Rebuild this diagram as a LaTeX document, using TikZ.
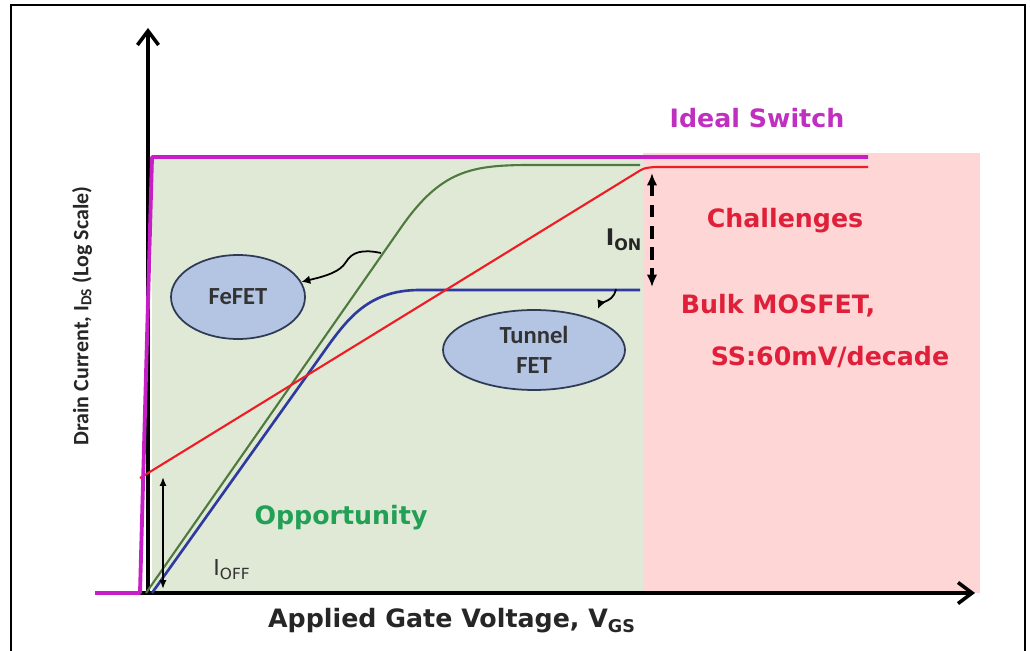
\documentclass[tikz,border=0pt]{standalone}
\usepackage{fontspec}
\setmainfont{DejaVu Sans}
\newfontfamily\carlito{Carlito}
\usetikzlibrary{arrows.meta,shapes.geometric}
\definecolor{greenzone}{HTML}{DFE9D6}
\definecolor{redzone}{HTML}{FDD6D5}
\definecolor{idealcol}{HTML}{C81EC8}
\definecolor{mosfetcol}{HTML}{EE1C24}
\definecolor{fefetcol}{HTML}{4E7A3E}
\definecolor{tfetcol}{HTML}{2E3A9E}
\definecolor{bubblefill}{HTML}{B4C5E4}
\definecolor{bubbleedge}{HTML}{2F3B55}
\definecolor{txtred}{HTML}{E0203A}
\definecolor{txtgreen}{HTML}{22A055}
\definecolor{txtmag}{HTML}{C030C0}
\begin{document}
\begin{tikzpicture}[x=0.02cm, y=-0.02cm,
		axis/.style={line width=2pt, -{Straight Barb[length=8pt,width=12pt]}},
		curve/.style={line width=1.2pt, line join=round},
		fet/.style={ellipse, draw=bubbleedge, line width=1pt, fill=bubblefill, inner sep=0pt,
			font=\carlito\bfseries\fontsize{14}{17}\selectfont, text=black!80, align=center},
		note/.style={font=\bfseries\fontsize{14.4}{17}\selectfont, inner sep=0pt},
		squig/.style={line width=1pt, -{Latex[length=5pt,width=5pt]}}]
		\useasboundingbox (0,0) rectangle (1030,651);
		% frame and shaded zones
		\draw[line width=1pt] (11,651) -- (11,5) -- (1025,5) -- (1025,651);
		\fill[greenzone] (152,157) rectangle (643,593);
		\fill[redzone] (643,153) rectangle (980,593);
		% axes
		\coordinate (o) at (148,593);
		\coordinate (xend) at (975,593);
		\coordinate (yend) at (148,28);
		\draw[axis] (95,593) -- (xend);
		\draw[axis] (o) -- (yend);
		% device curves
		\draw[curve, tfetcol, line width=1.5pt] (152,593) -- (318,360) .. controls (345,322) and (365,290) .. (420,290) -- (640,290);
		\draw[curve, fefetcol] (146,593) -- (400,229) .. controls (440,171) and (470,165) .. (530,165) -- (640,165);
		\draw[curve, mosfetcol] (140,478) -- (636,173) .. controls (644,168) .. (655,167) -- (868,167);
		\draw[curve, idealcol, line width=2.2pt] (95,593) -- (140,593) -- (152,157) -- (868,157);
		% bubbles
		\node[fet, minimum width=2.68cm, minimum height=1.68cm] (fefet) at (238,297) {FeFET};
		\node[fet, minimum width=3.64cm, minimum height=1.6cm] (tfet) at (534,350) {Tunnel\\FET};
		\coordinate (fefet tap) at (381,253);
		\coordinate (tfet tap) at (616,289);
		\coordinate (tfet tip) at (598,309);
		\draw[squig] (fefet tap) .. controls (362,249) and (352,252) .. (346,262) .. controls (340,272) and (326,276) .. (fefet);
		\draw[squig] (tfet tap) .. controls (614,298) and (609,300) .. (604,302) .. controls (600,304) .. (tfet tip);
		% on / off currents
		\coordinate (on top) at (652,173);
		\coordinate (on bot) at (652,287);
		\draw[line width=2pt, dash pattern=on 7pt off 5pt, {Latex[length=7pt,width=6pt]}-{Latex[length=7pt,width=6pt]}] (on top) -- (on bot);
		\node[font=\bfseries\fontsize{13}{15}\selectfont, text=black!85, inner sep=0pt] (ion) at (624,240) {I\textsubscript{ON}};
		\coordinate (off top) at (163,477);
		\coordinate (off bot) at (163,589);
		\draw[line width=1pt, {Latex[length=5pt,width=4pt]}-{Latex[length=5pt,width=4pt]}] (off top) -- (off bot);
		\node[font=\fontsize{12.5}{15}\selectfont, text=black!80, inner sep=0pt] (ioff) at (232,570) {I\textsubscript{OFF}};
		% texts
		\node[note, text=txtmag] (ideal) at (757,118) {Ideal Switch};
		\node[note, text=txtred] (chal) at (785,221) {Challenges};
		\node[note, text=txtred] (bulk) at (778,306) {Bulk MOSFET,};
		\node[note, text=txtred] (ss) at (830,357) {SS:60mV/decade};
		\node[note, text=txtgreen] (opp) at (341,518) {Opportunity};
		\node[note, text=black!85] (xlab) at (452,621) {Applied Gate Voltage, V\textsubscript{GS}};
		\node[font=\carlito\bfseries\fontsize{12.5}{15}\selectfont, text=black!85, inner sep=0pt, rotate=90] (ylab) at (82,316) {Drain Current, I\textsubscript{DS} (Log Scale)};
	\end{tikzpicture}
\end{document}
